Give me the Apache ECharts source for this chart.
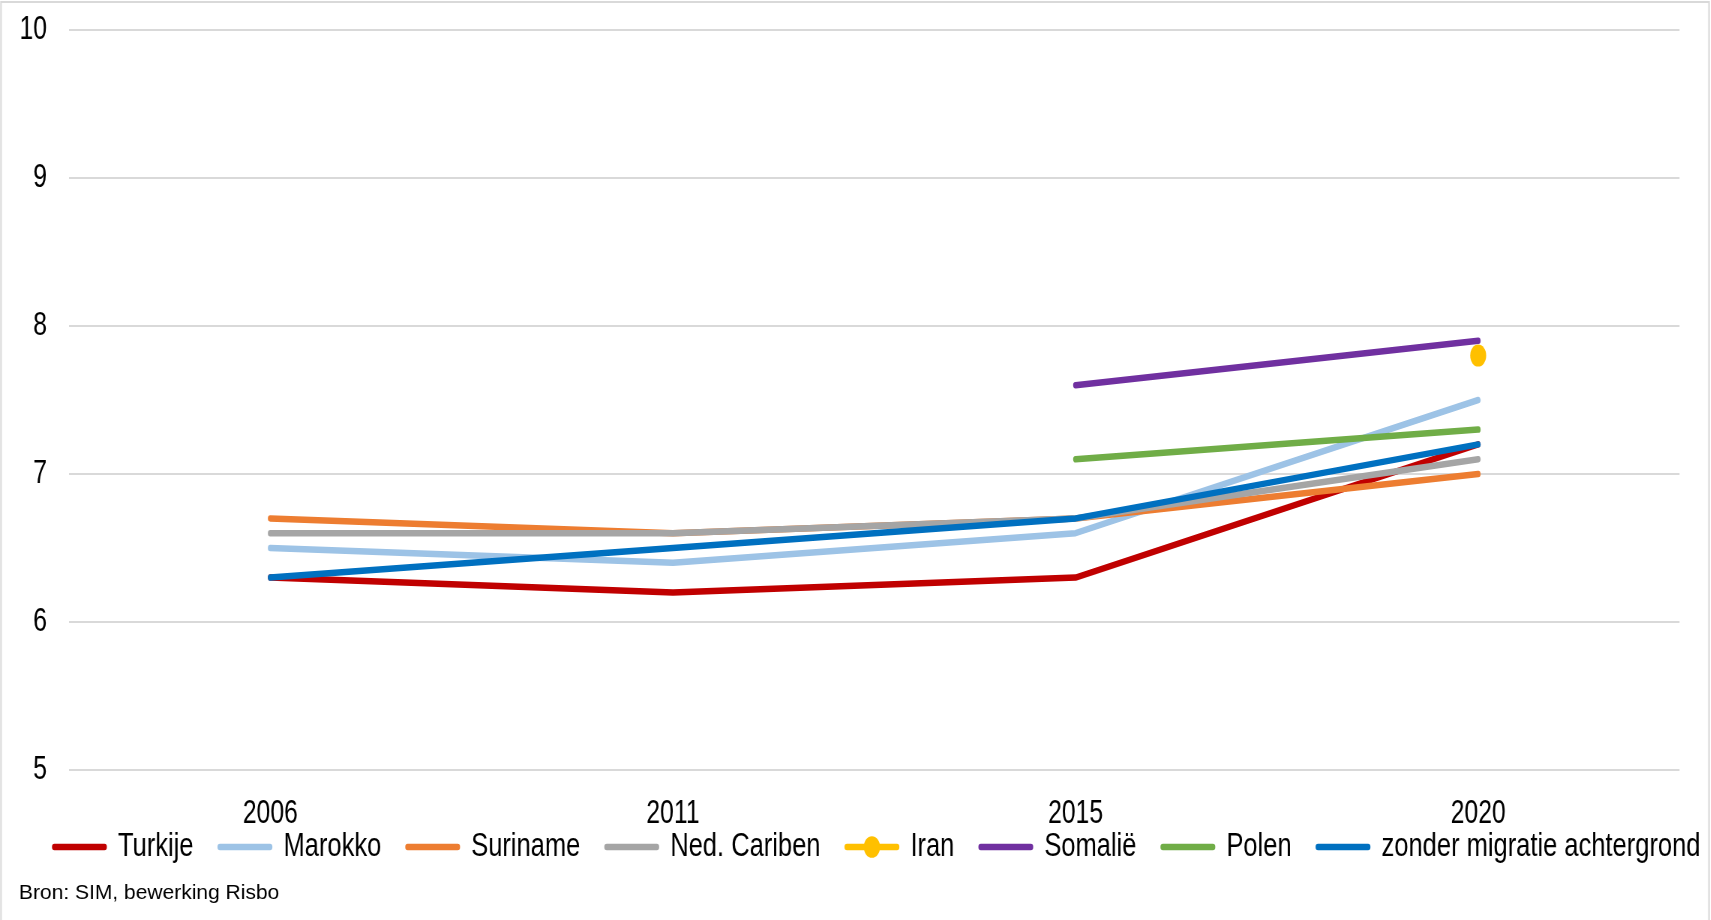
<!DOCTYPE html>
<html>
<head>
<meta charset="utf-8">
<script src="https://cdn.jsdelivr.net/npm/echarts@6/dist/echarts.min.js"></script>
<style>
html,body{margin:0;padding:0;background:#fff;overflow:hidden;}
#wrap{width:1711px;height:920px;overflow:hidden;position:relative;}
#chart{width:2282px;height:920px;transform:scaleX(0.75);transform-origin:0 0;position:absolute;left:0;top:0;}
</style>
</head>
<body>
<div id="wrap"><div id="chart"></div></div>
<script>
const categories = ['2006', '2011', '2015', '2020'];
const turkije   = [6.3, 6.2, 6.3, 7.2];
const marokko   = [6.5, 6.4, 6.6, 7.5];
const suriname  = [6.7, 6.6, 6.7, 7.0];
const nedCariben= [6.6, 6.6, 6.7, 7.1];
const iran      = [null, null, null, 7.8];
const somalie   = [null, null, 7.6, 7.9];
const polen     = [null, null, 7.1, 7.3];
const zonder    = [6.3, 6.5, 6.7, 7.2];
const yTicks = [5, 6, 7, 8, 9, 10];
const sourceText = 'Bron: SIM, bewerking Risbo';

// the chart canvas is squeezed horizontally (condensed look of the original)
const S = 0.75;
const FONT = '"Liberation Sans", Arial, sans-serif';

const seriesDefs = [
  ['Turkije', turkije, '#C00000'],
  ['Marokko', marokko, '#9DC3E6'],
  ['Suriname', suriname, '#ED7D31'],
  ['Ned. Cariben', nedCariben, '#A5A5A5'],
  ['Iran', iran, '#FFC000'],
  ['Somalië', somalie, '#7030A0'],
  ['Polen', polen, '#70AD47'],
  ['zonder migratie achtergrond', zonder, '#0070C0']
];

const series = seriesDefs.map(([name, data, color]) => {
  const isIran = name === 'Iran';
  return {
    name: name,
    type: 'line',
    data: data,
    color: color,
    showSymbol: isIran,
    symbol: isIran ? 'circle' : 'none',
    symbolSize: isIran ? [16 / S, 22] : 0,
    itemStyle: { color: color },
    lineStyle: { color: color, width: 6.5, cap: 'round', join: 'round' },
    emphasis: { disabled: true },
    animation: false
  };
});

const chart = echarts.init(document.getElementById('chart'), null, { renderer: 'canvas' });
chart.setOption({
  backgroundColor: '#fff',
  animation: false,
  grid: { left: 69 / S, right: 32 / S, top: 30, bottom: 150, containLabel: false },
  xAxis: {
    type: 'category',
    data: categories,
    boundaryGap: true,
    axisLine: { show: false },
    axisTick: { show: false },
    axisLabel: { color: '#000', fontFamily: FONT, fontSize: 33, margin: 27 }
  },
  yAxis: {
    type: 'value',
    min: yTicks[0],
    max: yTicks[yTicks.length - 1],
    interval: 1,
    axisLine: { show: false },
    axisTick: { show: false },
    splitLine: { lineStyle: { color: '#D9D9D9', width: 2 } },
    axisLabel: { color: '#000', fontFamily: FONT, fontSize: 33, margin: 22 / S, padding: [8, 0, 0, 0] }
  },
  legend: {
    left: 52 / S,
    top: 830,
    padding: 0,
    itemWidth: 50 / S,
    itemHeight: 27,
    itemGap: 24 / S,
    data: seriesDefs.map(([name, , color]) => ({
      name: name,
      itemStyle: name === 'Iran' ? { color: color } : { color: color, opacity: 0 },
      lineStyle: { color: color, width: 6.5, cap: 'round' }
    })),
    textStyle: { color: '#000', fontFamily: FONT, fontSize: 34, padding: [0, 0, 0, 13] }
  },
  graphic: [
    {
      type: 'rect',
      shape: { x: 1 / S, y: 2, width: 1708 / S, height: 930 },
      style: { fill: null, stroke: '#D9D9D9', lineWidth: 2 },
      silent: true
    },
    {
      type: 'text',
      x: 19 / S,
      y: 893,
      scaleX: 1 / S,
      style: { text: sourceText, fill: '#000', font: '21px "Liberation Sans", Arial, sans-serif', verticalAlign: 'middle' }
    }
  ],
  series: series
});
</script>
</body>
</html>
